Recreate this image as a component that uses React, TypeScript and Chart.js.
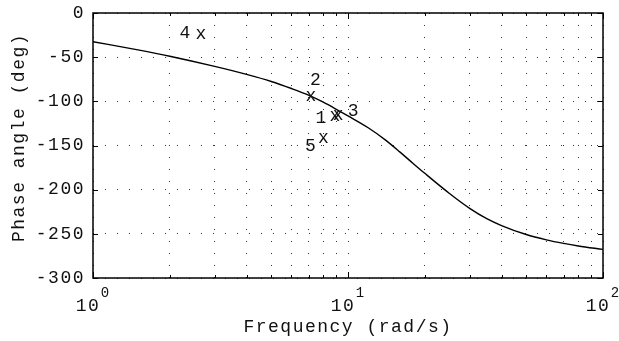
import React, { useEffect, useRef } from 'react';
import { Chart, registerables } from 'chart.js';

Chart.register(...registerables);

// ---- data ----
const curveFreq = [1, 1.5, 2, 3, 4, 5, 6, 7, 8, 9, 10, 12, 14, 16, 18, 20, 25, 30, 35, 40, 50, 60, 70, 80, 100];
const curvePhase = [-32.5, -41.8, -49, -60.5, -69.5, -77.5, -85.5, -93, -101, -109, -116.5, -129.9, -143.6, -157.5, -170.3, -181.5, -204.3, -221.1, -232.8, -240.6, -250.8, -256.8, -260.8, -263.7, -267.6];

const markerFreq = [8.89, 7.16, 9.14, 2.65, 8.01];
const markerPhase = [-116.6, -94, -115.5, -23.8, -142];
const markerLabels = ['1', '2', '3', '4', '5'];

const xTickValues = [1, 2, 3, 4, 5, 6, 7, 8, 9, 10, 20, 30, 40, 50, 60, 70, 80, 90, 100];
const xMajorValues = [1, 10, 100];
const xMajorExponents = ['0', '1', '2'];
const yMin = -300;
const yMax = 0;
const yStep = 50;

const xTitle = 'Frequency (rad/s)';
const yTitle = 'Phase angle (deg)';

// ---- style ----
const FONT = '"Liberation Mono", "Courier New", monospace';
const TEXT = '#111';
const LABEL_OFFSETS: [number, number][] = [[-14, 2], [4.5, -16], [15, -4], [-16, -1], [-13, 8]];

const decorPlugin = {
  id: 'decor',
  beforeDraw(chart: any) {
    chart.ctx.letterSpacing = '1.5px';
  },
  afterDraw(chart: any) {
    const { ctx, chartArea: a, scales } = chart;
    const xs = scales.x;
    const ys = scales.y;
    ctx.save();
    ctx.strokeStyle = '#000';
    ctx.lineWidth = 1;
    ctx.setLineDash([]);
    ctx.beginPath();
    xs.ticks.forEach((t: any) => {
      const px = Math.round(xs.getPixelForValue(t.value)) + 0.5;
      const len = xMajorValues.includes(t.value) ? 6 : 3;
      ctx.moveTo(px, a.bottom);
      ctx.lineTo(px, a.bottom - len);
      ctx.moveTo(px, a.top);
      ctx.lineTo(px, a.top + len);
    });
    ys.ticks.forEach((t: any) => {
      const py = Math.round(ys.getPixelForValue(t.value)) + 0.5;
      ctx.moveTo(a.left, py);
      ctx.lineTo(a.left + 5, py);
      ctx.moveTo(a.right, py);
      ctx.lineTo(a.right - 5, py);
    });
    ctx.stroke();
    ctx.lineWidth = 1.5;
    ctx.strokeRect(a.left, a.top, a.right - a.left, a.bottom - a.top);

    ctx.fillStyle = TEXT;
    ctx.textAlign = 'center';
    ctx.textBaseline = 'middle';

    // y axis title
    ctx.save();
    ctx.font = `18px ${FONT}`;
    ctx.translate(19, (a.top + a.bottom) / 2 - 8);
    ctx.rotate(-Math.PI / 2);
    ctx.fillText(yTitle, 0, 0);
    ctx.restore();

    // exponents of x tick labels
    ctx.letterSpacing = '0px';
    ctx.font = `14px ${FONT}`;
    xMajorValues.forEach((v, i) => {
      const px = xs.getPixelForValue(v);
      ctx.fillText(xMajorExponents[i], px + 12, a.bottom + 15);
    });

    // markers and labels
    ctx.font = `18px ${FONT}`;
    const meta = chart.getDatasetMeta(1);
    meta.data.forEach((el: any, i: number) => {
      ctx.fillText('x', el.x, el.y);
      const off = LABEL_OFFSETS[i];
      ctx.fillText(markerLabels[i], el.x + off[0], el.y + off[1]);
    });
    ctx.restore();
  },
};

export default function App() {
  const ref = useRef<HTMLCanvasElement>(null);
  useEffect(() => {
    const canvas = ref.current!;
    Chart.defaults.font.family = FONT;
    Chart.defaults.font.size = 18;
    const gridOpts = { color: '#333', lineWidth: 1, drawTicks: false };
    const borderOpts = { display: false, dash: [1, 11] };
    const chart = new Chart(canvas, {
      type: 'line',
      data: {
        datasets: [
          {
            data: curveFreq.map((f, i) => ({ x: f, y: curvePhase[i] })),
            borderColor: '#000',
            borderWidth: 1.4,
            pointRadius: 0,
            cubicInterpolationMode: 'monotone',
            fill: false,
          },
          {
            data: markerFreq.map((f, i) => ({ x: f, y: markerPhase[i] })),
            showLine: false,
            pointRadius: 0,
            borderColor: '#000',
          },
        ],
      },
      options: {
        responsive: false,
        animation: false,
        events: [],
        layout: { padding: { top: 13, right: 16, left: 0, bottom: 0 } },
        plugins: {
          legend: { display: false },
          tooltip: { enabled: false },
          title: { display: false },
        },
        scales: {
          x: {
            type: 'logarithmic',
            min: 1,
            max: 100,
            afterBuildTicks: (s: any) => {
              s.ticks = xTickValues.map((v) => ({ value: v }));
            },
            afterFit: (s: any) => {
              s.height = 63;
              s.paddingLeft = 0;
              s.paddingRight = 0;
            },
            ticks: {
              autoSkip: false,
              maxRotation: 0,
              minRotation: 0,
              padding: 17,
              labelOffset: -5,
              color: TEXT,
              font: { size: 18 },
              callback: (v: any) => (xMajorValues.includes(Number(v)) ? '10' : ''),
            },
            grid: gridOpts,
            border: borderOpts,
            title: { display: true, text: xTitle, color: TEXT, font: { size: 18 }, padding: { top: 0, bottom: 3 } },
          },
          y: {
            type: 'linear',
            min: yMin,
            max: yMax,
            afterFit: (s: any) => {
              s.width = 93;
              s.paddingTop = 0;
              s.paddingBottom = 0;
            },
            ticks: { stepSize: yStep, padding: 8, color: TEXT, font: { size: 18 } },
            grid: gridOpts,
            border: borderOpts,
            title: { display: false, text: yTitle },
          },
        },
      } as any,
      plugins: [decorPlugin],
    });
    return () => chart.destroy();
  }, []);
  return (
    <div style={{ position: 'absolute', left: 0, top: 0, width: 619, height: 341, background: '#fff' }}>
      <canvas ref={ref} width={619} height={341} style={{ display: 'block', width: 619, height: 341 }} />
    </div>
  );
}
